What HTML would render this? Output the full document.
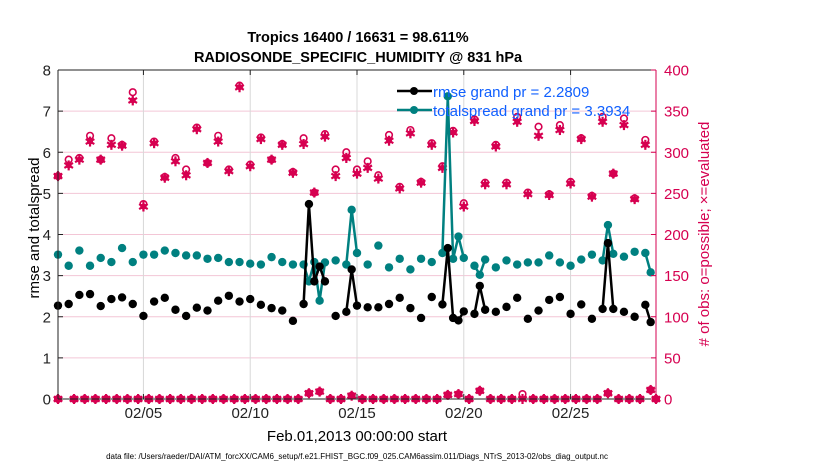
<!DOCTYPE html>
<html><head><meta charset="utf-8"><style>
body{margin:0;background:#fff;}
svg{display:block;font-family:"Liberation Sans",sans-serif;}
</style></head><body>
<svg id="chart" width="830" height="470">
<text x="358" y="42" text-anchor="middle" font-size="14.5" font-weight="bold">Tropics 16400 / 16631 = 98.611%</text>
<text x="358" y="62" text-anchor="middle" font-size="14.5" font-weight="bold">RADIOSONDE_SPECIFIC_HUMIDITY @ 831 hPa</text>
<g id="grid"></g>
<g id="marks"></g>
<g id="axes"></g>
<text transform="translate(39,228) rotate(-90)" text-anchor="middle" font-size="15">rmse and totalspread</text>
<text transform="translate(709,234) rotate(-90)" text-anchor="middle" font-size="15" fill="#d60050"># of obs: o=possible; ×=evaluated</text>
<text x="357" y="441" text-anchor="middle" font-size="15">Feb.01,2013 00:00:00 start</text>
<text x="357" y="459" text-anchor="middle" font-size="8">data file: /Users/raeder/DAI/ATM_forcXX/CAM6_setup/f.e21.FHIST_BGC.f09_025.CAM6assim.011/Diags_NTrS_2013-02/obs_diag_output.nc</text>
<g>
<line x1="397" y1="91" x2="432" y2="91" stroke="#000" stroke-width="2.5"/>
<circle cx="414" cy="91" r="4" fill="#000"/>
<text x="433" y="97" font-size="15" fill="#1060ff">rmse grand pr = 2.2809</text>
<line x1="397" y1="110" x2="432" y2="110" stroke="#008080" stroke-width="2.5"/>
<circle cx="414" cy="110" r="4" fill="#008080"/>
<text x="433" y="116" font-size="15" fill="#1060ff">totalspread grand pr = 3.3934</text>
</g>
</svg>
<script>
const lineTimes=[0,0.5,1,1.5,2,2.5,3,3.5,4,4.5,5,5.5,6,6.5,7,7.5,8,8.5,9,9.5,10,10.5,11,11.5,11.75,12,12.25,12.5,13,13.5,13.75,14,14.5,15,15.5,16,16.5,17,17.5,18,18.25,18.5,18.75,19,19.5,19.75,20,20.5,21,21.5,22,22.5,23,23.5,24,24.5,25,25.5,25.75,26,26.5,27,27.5,27.75];
const rmse=[2.27,2.31,2.53,2.55,2.26,2.43,2.47,2.31,2.02,2.37,2.46,2.17,2.02,2.22,2.15,2.39,2.51,2.37,2.43,2.29,2.21,2.15,1.90,2.31,4.74,2.86,3.22,2.86,2.02,2.12,3.15,2.27,2.23,2.23,2.31,2.46,2.21,1.97,2.48,2.30,3.67,1.97,1.91,2.13,2.07,2.75,2.17,2.12,2.24,2.46,1.95,2.15,2.41,2.48,2.07,2.30,1.95,2.19,3.79,2.19,2.12,2.00,2.29,1.87];
const spread=[3.51,3.24,3.61,3.24,3.43,3.33,3.67,3.33,3.51,3.51,3.61,3.55,3.49,3.49,3.41,3.43,3.33,3.33,3.29,3.27,3.45,3.33,3.27,3.27,2.86,3.33,2.39,3.32,3.37,3.27,4.60,3.55,3.27,3.73,3.20,3.41,3.15,3.41,3.33,3.55,7.36,3.41,3.95,3.43,3.24,3.02,3.39,3.20,3.37,3.27,3.32,3.32,3.49,3.32,3.24,3.39,3.51,3.37,4.23,3.53,3.46,3.58,3.55,3.08];
const mainTimes=[0,0.5,1,1.5,2,2.5,3,3.5,4,4.5,5,5.5,6,6.5,7,7.5,8,8.5,9,9.5,10,10.5,11,11.5,12,12.5,13,13.5,14,14.5,15,15.5,16,16.5,17,17.5,18,18.5,19,19.5,20,20.5,21,21.5,22,22.5,23,23.5,24,24.5,25,25.5,26,26.5,27,27.5];
const mainEval=[271,284,291,313,291,309,308,363,234,311,269,289,272,328,287,313,277,379,283,316,291,309,275,310,251,319,271,293,274,281,268,314,256,323,263,309,281,324,234,338,261,307,261,337,249,320,248,327,262,316,246,337,274,333,243,309];
const mainPoss=[271,291,293,320,291,317,309,373,237,313,270,293,279,330,287,320,279,381,285,318,291,310,276,317,251,322,279,300,279,289,272,321,258,327,264,311,283,326,238,340,263,309,263,343,251,331,249,333,264,317,247,343,274,341,244,315];
const lowTimes=[0,0.75,1.25,1.75,2.25,2.75,3.25,3.75,4.25,4.75,5.25,5.75,6.25,6.75,7.25,7.75,8.25,8.75,9.25,9.75,10.25,10.75,11.25,11.75,12.25,12.75,13.25,13.75,14.25,14.75,15.25,15.75,16.25,16.75,17.25,17.75,18.25,18.75,19.25,19.75,20.25,20.75,21.25,21.75,22.25,22.75,23.25,23.75,24.25,24.75,25.25,25.75,26.25,26.75,27.25,27.75,28];
const lowEval=[0,0,0,0,0,0,0,0,0,0,0,0,0,0,0,0,0,0,0,0,0,0,0,7,9,0,0,4,0,0,0,0,0,0,0,0,5,6,0,10,0,0,0,0,0,0,0,0,0,0,0,7,0,0,0,11,0];
const lowPoss=[0,0,0,0,0,0,0,0,0,0,0,0,0,0,0,0,0,0,0,0,0,0,0,7,9,0,0,4,0,0,0,0,0,0,0,0,5,6,0,10,0,0,0,6,0,0,0,0,0,0,0,7,0,0,0,11,0];
const leftTicks=[0,1,2,3,4,5,6,7,8];
const rightTicks=[0,50,100,150,200,250,300,350,400];
const dateTicks=[4,9,14,19,24];
const dateLabels=["02/05","02/10","02/15","02/20","02/25"];

const NS="http://www.w3.org/2000/svg";
const X0=58,X1=656,Y0=399,Y1=70,MAG="#d60050";
const xs=d=>X0+(X1-X0)*d/28;
const yl=v=>Y0-(Y0-Y1)*v/8;
const yr=v=>Y0-(Y0-Y1)*v/400;
function mk(tag,attrs,parent){const e=document.createElementNS(NS,tag);for(const k in attrs)e.setAttribute(k,attrs[k]);parent.appendChild(e);return e;}
const grid=document.getElementById('grid'),marks=document.getElementById('marks'),axes=document.getElementById('axes');
leftTicks.forEach(v=>{if(v>0&&v<8){const l=mk('line',{x1:X0,x2:X1,y1:yl(v),y2:yl(v),stroke:'#f3c6d6','stroke-width':1},grid);

}});
dateTicks.forEach(d=>{const l=mk('line',{x1:xs(d),x2:xs(d),y1:Y1,y2:Y0,stroke:'#d8d8d8','stroke-width':1},grid);

});
function star(x,y,p){const g=mk('g',{},p);


mk('circle',{cx:x,cy:y,r:3,fill:MAG},g);
[[0,5],[4.3,2.5],[4.3,-2.5]].forEach(([a,b])=>mk('line',{x1:x-a,y1:y-b,x2:x+a,y2:y+b,stroke:MAG,'stroke-width':2.2},g));}
function ring(x,y,p){const c=mk('circle',{cx:x,cy:y,r:3.3,fill:'none',stroke:MAG,'stroke-width':1.6},p);

}
mainTimes.forEach((t,i)=>{ring(xs(t),yr(mainPoss[i]),marks);star(xs(t),yr(mainEval[i]),marks);});
lowTimes.forEach((t,i)=>{ring(xs(t),yr(lowPoss[i]),marks);star(xs(t),yr(lowEval[i]),marks);});
function series(vals,color,name){let d='';
lineTimes.forEach((t,i)=>{const c=(i>0&&t-lineTimes[i-1]<=0.26)?'L':'M';d+=c+xs(t).toFixed(1)+','+yl(vals[i]).toFixed(1);});
const p=mk('path',{d:d,fill:'none',stroke:color,'stroke-width':2.5,'stroke-linejoin':'round'},marks);


lineTimes.forEach((t,i)=>{const c=mk('circle',{cx:xs(t),cy:yl(vals[i]),r:4.2,fill:color},marks);

});}
series(spread,'#008080','totalspread');
series(rmse,'#000','rmse');
const bx=mk('path',{d:`M${X0},${Y1}H${X1}M${X0},${Y0}H${X1}M${X0},${Y1}V${Y0}`,stroke:'#222','stroke-width':1,fill:'none'},axes);


const ra=mk('line',{x1:X1,x2:X1,y1:Y1,y2:Y0,stroke:MAG,'stroke-width':1},axes);


leftTicks.forEach(v=>{mk('line',{x1:X0,x2:X0+5,y1:yl(v),y2:yl(v),stroke:'#222'},axes);
const t=mk('text',{x:X0-7,y:yl(v)+5.5,'text-anchor':'end','font-size':15,fill:'#222'},axes);t.textContent=v;

});
rightTicks.forEach(v=>{mk('line',{x1:X1-5,x2:X1,y1:yr(v),y2:yr(v),stroke:MAG},axes);
const t=mk('text',{x:X1+8,y:yr(v)+5.5,'font-size':15,fill:MAG},axes);t.textContent=v;

});
dateTicks.forEach((d,i)=>{mk('line',{x1:xs(d),x2:xs(d),y1:Y0,y2:Y0-5,stroke:'#222'},axes);mk('line',{x1:xs(d),x2:xs(d),y1:Y1,y2:Y1+5,stroke:'#222'},axes);
const t=mk('text',{x:xs(d),y:418,'text-anchor':'middle','font-size':15,fill:'#222'},axes);t.textContent=dateLabels[i];

});
</script>
</body></html>
